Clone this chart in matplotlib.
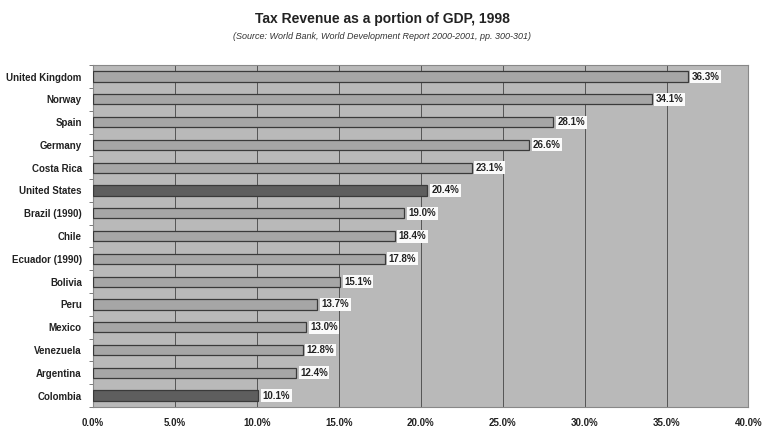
import matplotlib.pyplot as plt
import matplotlib.ticker as mticker
import numpy as np

plt.rcParams["font.family"] = ["Liberation Sans", "DejaVu Sans"]

countries = ["United Kingdom", "Norway", "Spain", "Germany", "Costa Rica",
             "United States", "Brazil (1990)", "Chile", "Ecuador (1990)",
             "Bolivia", "Peru", "Mexico", "Venezuela", "Argentina", "Colombia"]
values = [36.3, 34.1, 28.1, 26.6, 23.1, 20.4, 19.0, 18.4, 17.8,
          15.1, 13.7, 13.0, 12.8, 12.4, 10.1]
highlight = ["United States", "Colombia"]

BG = "#b9b9b9"
BAR = "#a6a6a6"
DARK = "#5e5e5e"
EDGE = "#3a3a3a"

fig = plt.figure(figsize=(7.64, 4.30), dpi=100)
ax = fig.add_axes([0.1217, 0.0535, 0.858, 0.795])
ax.set_facecolor(BG)

y = np.arange(len(countries))
colors = [DARK if c in highlight else BAR for c in countries]
ax.barh(y, values, height=0.45, color=colors, edgecolor=EDGE, linewidth=0.9, zorder=3)

for yi, v in zip(y, values):
    ax.text(v + 0.25, yi, f"{v:.1f}%", va="center", ha="left", fontsize=7,
            fontweight="bold", color="#222222", zorder=4,
            bbox=dict(boxstyle="square,pad=0.15", facecolor="#fafafa", edgecolor="none"))

ax.set_xlim(0, 40)
ax.set_ylim(len(countries) - 0.5, -0.5)
ax.xaxis.set_major_locator(mticker.MultipleLocator(5))
ax.xaxis.set_major_formatter(mticker.FuncFormatter(lambda x, _: f"{x:.1f}%"))
ax.grid(axis="x", color="#444444", linewidth=0.6, zorder=1)

ax.set_yticks(y)
ax.set_yticklabels(countries, fontsize=7, fontweight="bold", color="#222222")
ax.set_yticks(np.arange(len(countries) + 1) - 0.5, minor=True)
ax.tick_params(axis="y", which="major", length=0, pad=8)
ax.tick_params(axis="y", which="minor", length=3, color="#666666")
ax.tick_params(axis="x", length=0, pad=8, labelsize=7, labelcolor="#222222")
for lbl in ax.get_xticklabels():
    lbl.set_fontweight("bold")

for s in ax.spines.values():
    s.set_color("#888888")
    s.set_linewidth(0.8)

fig.text(0.5, 0.955, "Tax Revenue as a portion of GDP, 1998", ha="center",
         va="center", fontsize=10, fontweight="bold", color="#222222")
fig.text(0.5, 0.915, "(Source: World Bank, World Development Report 2000-2001, pp. 300-301)",
         ha="center", va="center", fontsize=6.5, style="italic", color="#333333")

fig.savefig("out.png", dpi=100)
